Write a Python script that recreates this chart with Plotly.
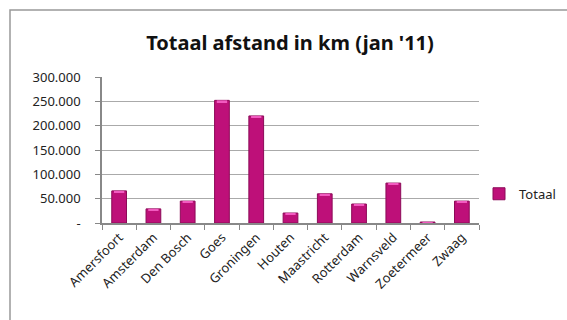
import plotly.graph_objects as go

# Total distance per location, January 2011 (km)
locations = ["Amersfoort", "Amsterdam", "Den Bosch", "Goes", "Groningen", "Houten",
             "Maastricht", "Rotterdam", "Warnsveld", "Zoetermeer", "Zwaag"]
totals = [66000, 29000, 45000, 252000, 220000, 20500, 60000, 39000, 82000, 2000, 45000]

y_ticks = [0, 50000, 100000, 150000, 200000, 250000, 300000]
y_tick_text = ["-", "50.000", "100.000", "150.000", "200.000", "250.000", "300.000"]

bar_width = 0.43
cap = 3500  # height of the lighter cap drawn at the top of each bar

fig = go.Figure()
fig.add_trace(go.Bar(
    x=locations, y=totals, name="Totaal", width=bar_width,
    marker=dict(color="#BE1079", line=dict(color="#8C0A58", width=1)),
))
fig.add_trace(go.Bar(
    x=locations, y=[min(cap, v) for v in totals],
    base=[v - min(cap, v) for v in totals],
    width=bar_width * 0.7, showlegend=False, hoverinfo="skip",
    marker=dict(color="#F25AC0", line=dict(width=0)),
))

fig.update_layout(
    width=567, height=320,
    margin=dict(l=102, r=88, t=77, b=97, autoexpand=False),
    paper_bgcolor="white", plot_bgcolor="white",
    barmode="overlay",
    font=dict(family="Noto Sans", size=13, color="#222222"),
    title=dict(text="<b>Totaal afstand in km (jan '11)</b>", x=290 / 567, xanchor="center",
               y=1 - 43 / 320, yanchor="middle",
               font=dict(family="Noto Sans", size=20, color="#111111")),
    showlegend=True,
    legend=dict(x=1.0, y=0.2, xanchor="left", yanchor="middle",
                font=dict(size=13), bgcolor="rgba(0,0,0,0)", itemwidth=30),
    xaxis=dict(
        tickangle=-45, ticks="outside", tickson="boundaries", ticklen=5,
        tickcolor="#888888", showline=True, linecolor="#888888", linewidth=1.5,
        showgrid=False, tickfont=dict(size=13), automargin=False,
    ),
    yaxis=dict(
        range=[0, 300000], tickvals=y_ticks, ticktext=y_tick_text,
        ticks="outside", ticklen=5, tickcolor="#888888",
        showline=True, linecolor="#888888", linewidth=1.5,
        showgrid=True, gridcolor="#AAAAAA", gridwidth=1,
        ticklabelstandoff=12, tickfont=dict(size=13), automargin=False,
    ),
    shapes=[dict(type="rect", xref="paper", yref="paper",
                 x0=-92 / 377, y0=-120 / 146, x1=2.0, y1=1 + 67 / 146,
                 line=dict(color="#999999", width=1.5), layer="below")],
)

fig.write_html("out.html")
